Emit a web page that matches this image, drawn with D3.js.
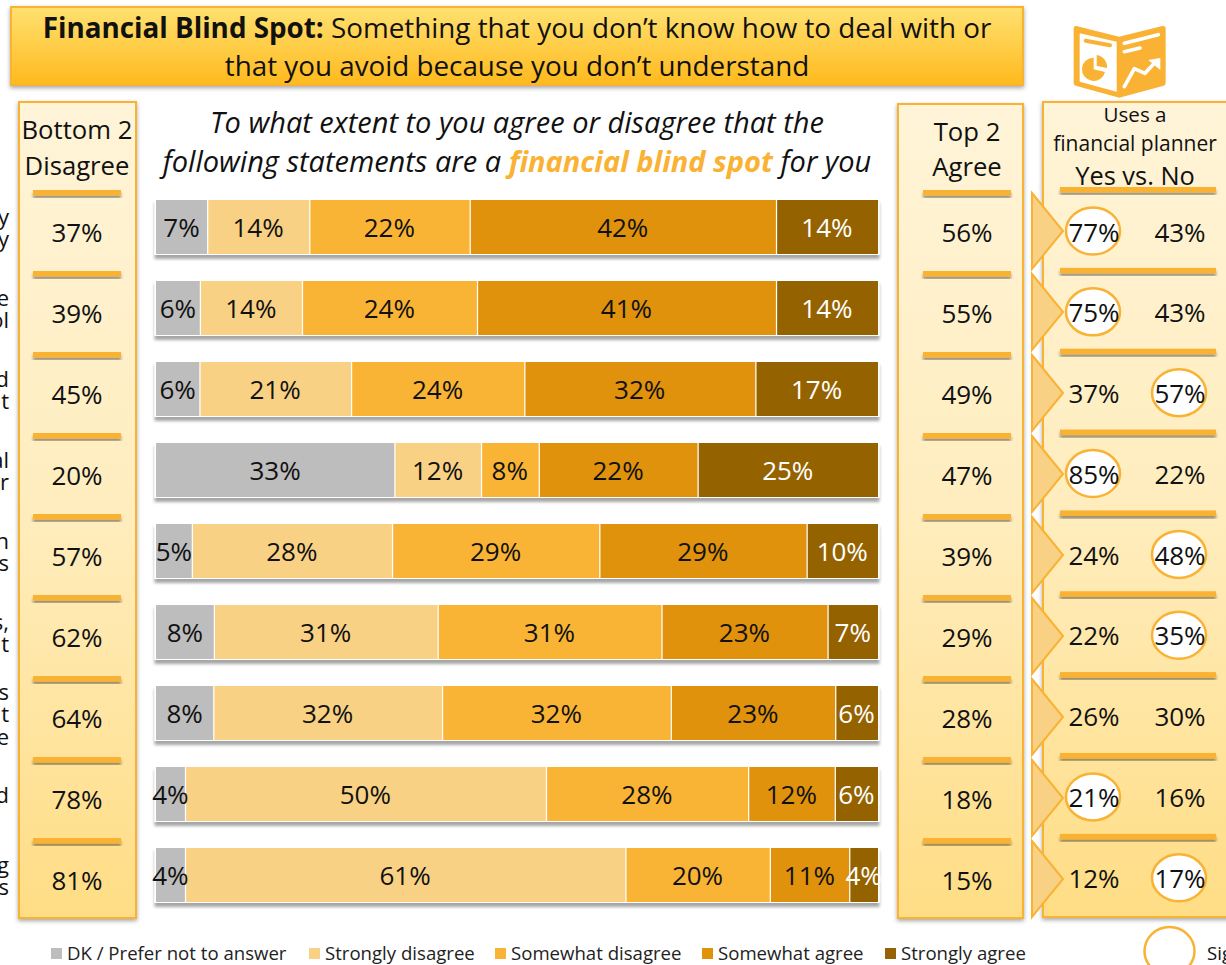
<!DOCTYPE html>
<html>
<head>
<meta charset="utf-8">
<script src="https://cdn.jsdelivr.net/npm/d3@7"></script>
<style>
html,body{margin:0;padding:0;background:#fff;overflow:hidden}
svg{display:block;font-family:"Open Sans",sans-serif}
</style>
</head>
<body>
<svg id="chart" width="1226" height="965"></svg>
<script>
// Survey responses, one row per statement
const rows = [0,1,2,3,4,5,6,7,8];
const sideLabels = [["y","y"],["e","ol"],["d","t"],["al","r"],["n","s"],["s,","t"],["s","t","e"],["d"],["g","s"]];
const seriesNames = ["DK / Prefer not to answer","Strongly disagree","Somewhat disagree","Somewhat agree","Strongly agree"];
const seriesColors = ["#BDBDBD","#F9D185","#FAB435","#E09208","#956204"];
const seriesText = ["#111","#111","#111","#111","#fff"];
const dk       = [7,6,6,33,5,8,8,4,4];
const sDis     = [14,14,21,12,28,31,32,50,61];
const mDis     = [22,24,24,8,29,31,32,28,20];
const mAgr     = [42,41,32,22,29,23,23,12,11];
const sAgr     = [14,14,17,25,10,7,6,6,4];
const seriesValues = [dk,sDis,mDis,mAgr,sAgr];
const bottom2  = [37,39,45,20,57,62,64,78,81];
const top2     = [56,55,49,47,39,29,28,18,15];
const plannerYes = [77,75,37,85,24,22,26,21,12];
const plannerNo  = [43,43,57,22,48,35,30,16,17];
// Which planner column is significantly higher in each row
const sigSide  = ["yes","yes","no","yes","no","no",null,"yes","no"];

const orange = "#F9B233";
const svg = d3.select("#chart");
const defs = svg.append("defs");

function gradient(id, stops){
  const g = defs.append("linearGradient").attr("id",id).attr("x1",0).attr("y1",0).attr("x2",0).attr("y2",1);
  stops.forEach(([o,c]) => g.append("stop").attr("offset",o).attr("stop-color",c));
}
gradient("titleFill",[[0,"#FFE171"],[1,"#FFB91D"]]);
gradient("panelFill",[[0,"#FFF4D8"],[0.5,"#FFEDBE"],[1,"#FFDD85"]]);
function shadow(id, dy, blur, op){
  defs.append("filter").attr("id",id)
    .attr("x","-10%").attr("y","-20%").attr("width","120%").attr("height","160%")
    .append("feDropShadow").attr("dx",0).attr("dy",dy).attr("stdDeviation",blur)
    .attr("flood-color","#000").attr("flood-opacity",op);
}
shadow("boxShadow",2,2,0.35);
shadow("ruleShadow",3,1.5,0.4);
shadow("barShadow",4,1.5,0.35);

const yBand = d3.scaleBand().domain(rows).range([200,902]).paddingInner(1/3).paddingOuter(0);
const x = d3.scaleLinear().domain([0,1]).range([156,878]);

// Title banner
svg.append("rect").attr("x",11).attr("y",7).attr("width",1012).attr("height",78)
  .attr("fill","url(#titleFill)").attr("stroke",orange).attr("stroke-width",2).attr("filter","url(#boxShadow)");
const title = svg.append("text").attr("text-anchor","middle").attr("font-size",27.8).attr("fill","#111");
const t1 = title.append("tspan").attr("x",517).attr("y",38);
t1.append("tspan").attr("font-weight",700).text("Financial Blind Spot:");
t1.append("tspan").text(" Something that you don\u2019t know how to deal with or");
title.append("tspan").attr("x",517).attr("y",76).text("that you avoid because you don\u2019t understand");

// Survey question
const question = svg.append("text").attr("text-anchor","middle").attr("font-size",29).attr("font-style","italic").attr("fill","#111");
question.append("tspan").attr("x",517).attr("y",133).text("To what extent to you agree or disagree that the");
const q2 = question.append("tspan").attr("x",517).attr("y",172);
q2.append("tspan").text("following statements are a ");
q2.append("tspan").attr("font-weight",700).attr("fill",orange).text("financial blind spot");
q2.append("tspan").text(" for you");

// Statement labels running in from the left edge
const side = svg.append("g").attr("font-size",22).attr("fill","#111").attr("text-anchor","end");
rows.forEach(r => {
  const lines = sideLabels[r], mid = yBand(r) + yBand.bandwidth()/2 + 8;
  lines.forEach((s,i) => side.append("text").attr("x",9)
    .attr("y", mid + (i-(lines.length-1)/2)*22.5 + 1).text(s));
});

// Side panels
function panel(px, py, w, h){
  svg.append("rect").attr("x",px).attr("y",py).attr("width",w).attr("height",h)
    .attr("fill","url(#panelFill)").attr("stroke",orange).attr("stroke-width",2).attr("filter","url(#boxShadow)");
}
panel(19,102,117,816);
panel(898,104,125,814);
panel(1043,102,190,815);

function headerLines(cx, lines){
  lines.forEach(([s,y,fs]) => svg.append("text").attr("x",cx).attr("y",y).attr("text-anchor","middle")
    .attr("font-size",fs).attr("fill","#111").text(s));
}
headerLines(77,[["Bottom 2",139,25.7],["Disagree",175,25.7]]);
headerLines(967,[["Top 2",141,25.7],["Agree",176,25.7]]);
headerLines(1135,[["Uses a",122,20.6],["financial planner",151,21],["Yes vs. No",185,25.4]]);

// Short rules above each row in the panels
function rules(x0, x1, yOffset){
  svg.append("g").selectAll("rect").data(rows).join("rect")
    .attr("x",x0).attr("width",x1-x0)
    .attr("y",r => yBand(r) - 10 + yOffset(r)).attr("height",5.5)
    .attr("fill",orange).attr("filter","url(#ruleShadow)");
}
rules(33,121,() => 0);
rules(923,1011,() => 0);
rules(1060,1216,r => -3 - r*0.15);

// Percent columns
const fmt = v => v + "%";
function column(cx, values, dy){
  svg.append("g").attr("text-anchor","middle").attr("font-size",26).attr("fill","#111")
    .selectAll("text").data(rows).join("text")
    .attr("x",cx).attr("y",r => yBand(r) + yBand.bandwidth()/2 + dy(r)).text(r => fmt(values[r]));
}
column(77,bottom2,() => 14.5);
column(967,top2,() => 14.5);

// Arrow tabs from the Top 2 panel to the planner panel
const arrow = d3.line();
svg.append("g").selectAll("path").data(rows).join("path")
  .attr("d",r => {
    const c = yBand(r) + yBand.bandwidth()/2 + 4;
    return arrow([[1032,c-38],[1063,c],[1032,c+38]]) + "Z";
  })
  .attr("fill","#F9D185").attr("stroke",orange).attr("stroke-width",2);

// Planner columns, with ellipses on the higher figure
const xYes = 1094, xNo = 1180;
svg.append("g").selectAll("ellipse").data(rows.filter(r => sigSide[r])).join("ellipse")
  .attr("cx",r => sigSide[r]==="yes" ? xYes-1 : xNo-1)
  .attr("cy",r => yBand(r) + yBand.bandwidth()/2 + 4 - r*0.15)
  .attr("rx",27).attr("ry",23.5)
  .attr("fill","#fff").attr("stroke",orange).attr("stroke-width",2.5);
column(xYes,plannerYes,r => 14.5 - r*0.25);
column(xNo,plannerNo,r => 14.5 - r*0.25);

// Stacked bars, each row expanded to the full width
const table = rows.map(r => {
  const d = {row:r};
  seriesNames.forEach((n,i) => d[n] = seriesValues[i][r]);
  return d;
});
const stacked = d3.stack().keys(seriesNames).offset(d3.stackOffsetExpand)(table);

const barRows = svg.append("g").selectAll("g").data(rows).join("g").attr("filter","url(#barShadow)");
barRows.append("rect").attr("x",x(0)-1.5).attr("width",x(1)-x(0)+3)
  .attr("y",r => yBand(r)-1).attr("height",yBand.bandwidth()+2).attr("fill","#fff");

stacked.forEach((layer,i) => {
  barRows.append("rect")
    .attr("x",r => x(layer[r][0]) + (i ? 1.25 : 0))
    .attr("width",r => x(layer[r][1]) - x(layer[r][0]) - (i ? 1.25 : 0))
    .attr("y",r => yBand(r)).attr("height",yBand.bandwidth())
    .attr("fill",seriesColors[i]);
});
stacked.forEach((layer,i) => {
  svg.append("g").attr("text-anchor","middle").attr("font-size",26).attr("fill",seriesText[i])
    .selectAll("text").data(rows).join("text")
    .attr("x",r => (x(layer[r][0]) + x(layer[r][1]))/2)
    .attr("y",r => yBand(r) + yBand.bandwidth()/2 + 10)
    .text(r => fmt(seriesValues[i][r]));
});

// Legend
const legendSwatchX = [51,309,495,702,885];
const legend = svg.append("g");
seriesNames.forEach((n,i) => {
  legend.append("rect").attr("x",legendSwatchX[i]).attr("y",948).attr("width",11).attr("height",11).attr("fill",seriesColors[i]);
  legend.append("text").attr("x",legendSwatchX[i]+16).attr("y",960).attr("font-size",18.6).attr("fill","#222").text(n);
});
svg.append("ellipse").attr("cx",1169.5).attr("cy",951).attr("rx",25).attr("ry",24)
  .attr("fill","#fff").attr("stroke",orange).attr("stroke-width",2.5);
svg.append("text").attr("x",1207).attr("y",960).attr("font-size",18.6).attr("fill","#111").text("Sig");

// Report icon: open booklet with a pie on one page and a rising arrow on the other
const icon = svg.append("g").attr("transform","translate(1065,20) scale(0.3333)");
icon.append("path").attr("d","M34 18 L162 50 L292 18 Q302 16 302 26 L302 190 Q302 196 296 197 L163 233 L32 197 Q26 196 26 190 L26 26 Q26 16 34 18Z").attr("fill",orange);
icon.append("path").attr("d","M44 40 L155 65 L155 215 L44 185Z").attr("fill","#fff");
icon.append("path").attr("d","M62 62 L135 76").attr("stroke",orange).attr("stroke-linecap","round").attr("stroke-width",12).attr("fill","none");
icon.append("path").attr("d","M86 113 A35 35 0 1 0 120 156 L86 148Z").attr("fill",orange);
icon.append("path").attr("d","M95 105 A36 36 0 0 1 126 144 L95 138Z").attr("fill",orange);
icon.append("g").attr("stroke","#fff").attr("stroke-linecap","round").attr("stroke-linejoin","round").attr("stroke-width",11).attr("fill","none")
  .call(g => {
    g.append("path").attr("d","M178 70 L280 44");
    g.append("path").attr("d","M178 95 L225 84");
    g.append("path").attr("d","M178 200 L208 146 L240 160 L268 130");
  });
icon.append("path").attr("d","M250 120 L286 114 L286 150Z").attr("fill","#fff");
</script>
</body>
</html>
